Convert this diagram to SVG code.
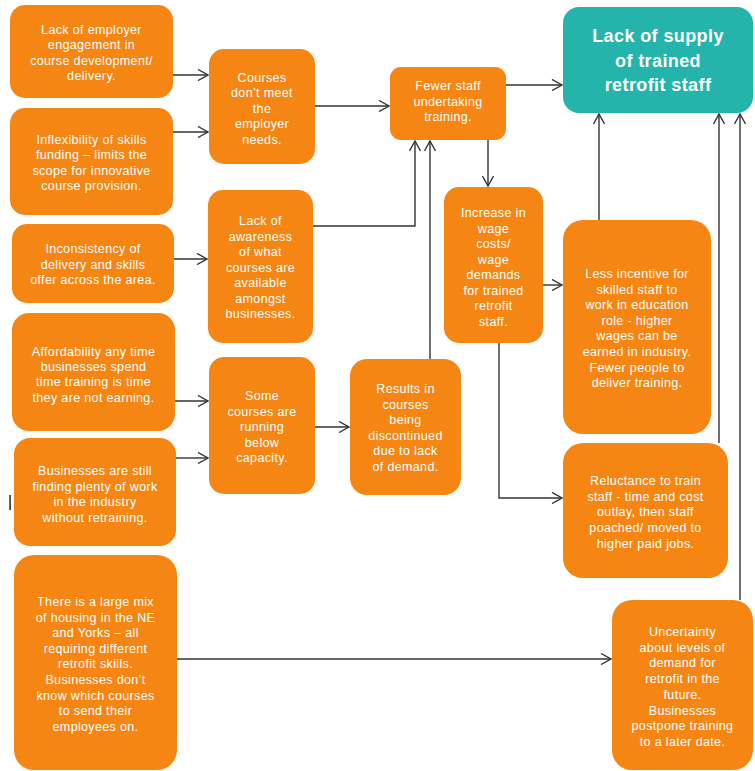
<svg xmlns="http://www.w3.org/2000/svg" width="755" height="771" viewBox="0 0 755 771">
  <style>
    .node { fill: #F58614; }
    .goal { fill: #24B4AB; }
    .label { font-family: "Liberation Sans", Arial, sans-serif; font-size: 12.5px; letter-spacing: 0.35px; fill: #FFFFFF; text-anchor: middle; }
    .title { font-family: "Liberation Sans", Arial, sans-serif; font-size: 18px; font-weight: bold; letter-spacing: 0.4px; fill: #FFFFFF; text-anchor: middle; }
    .link { fill: none; stroke: #333333; stroke-width: 1.4; marker-end: url(#chev); }
  </style>
  <defs>
    <marker id="chev" viewBox="0 0 12 12" refX="11" refY="6" markerWidth="12" markerHeight="12" markerUnits="userSpaceOnUse" orient="auto">
      <path d="M1,0.5 L11,6 L1,11.5" fill="none" stroke="#333333" stroke-width="1.4"/>
    </marker>
  </defs>
  <rect width="755" height="771" fill="#FFFFFF"/>

  <!-- connectors -->
  <g id="connectors">
    <path class="link" d="M173,75 H208"/>
    <path class="link" d="M173,132 H208"/>
    <path class="link" d="M174,259 H207"/>
    <path class="link" d="M175,401 H208"/>
    <path class="link" d="M176,458 H208"/>
    <path class="link" d="M315,106 H389"/>
    <path class="link" d="M313,226 H415 V141"/>
    <path class="link" d="M430,359 V141"/>
    <path class="link" d="M315,427 H349"/>
    <path class="link" d="M506,85 H562"/>
    <path class="link" d="M488,140 V186"/>
    <path class="link" d="M543,285 H562"/>
    <path class="link" d="M499,343 V498 H562"/>
    <path class="link" d="M599,220 V114"/>
    <path class="link" d="M719,443 V114"/>
    <path class="link" d="M740,600 V114"/>
    <path class="link" d="M177,659 H611"/>
  </g>

  <g id="employer-engagement">
    <rect class="node" x="10" y="5" width="163" height="93" rx="15"/>
    <text class="label" x="91.5" y="34"><tspan x="91.5">Lack of employer</tspan><tspan x="91.5" dy="15.4">engagement in</tspan><tspan x="91.5" dy="15.4">course development/</tspan><tspan x="91.5" dy="15.4">delivery.</tspan></text>
  </g>

  <g id="funding">
    <rect class="node" x="10" y="108" width="163" height="107" rx="15"/>
    <text class="label" x="91.5" y="144"><tspan x="91.5">Inflexibility of skills</tspan><tspan x="91.5" dy="15.4">funding – limits the</tspan><tspan x="91.5" dy="15.4">scope for innovative</tspan><tspan x="91.5" dy="15.4">course provision.</tspan></text>
  </g>

  <g id="courses-mismatch">
    <rect class="node" x="209" y="49" width="106" height="115" rx="15"/>
    <text class="label" x="262" y="82"><tspan x="262">Courses</tspan><tspan x="262" dy="15.4">don’t meet</tspan><tspan x="262" dy="15.4">the</tspan><tspan x="262" dy="15.4">employer</tspan><tspan x="262" dy="15.4">needs.</tspan></text>
  </g>

  <g id="awareness">
    <rect class="node" x="208" y="190" width="105" height="153" rx="15"/>
    <text class="label" x="260.5" y="225"><tspan x="260.5">Lack of</tspan><tspan x="260.5" dy="15.5">awareness</tspan><tspan x="260.5" dy="15.5">of what</tspan><tspan x="260.5" dy="15.5">courses are</tspan><tspan x="260.5" dy="15.5">available</tspan><tspan x="260.5" dy="15.5">amongst</tspan><tspan x="260.5" dy="15.5">businesses.</tspan></text>
  </g>

  <g id="inconsistency">
    <rect class="node" x="12" y="224" width="162" height="79" rx="15"/>
    <text class="label" x="93" y="253"><tspan x="93">Inconsistency of</tspan><tspan x="93" dy="15.6">delivery and skills</tspan><tspan x="93" dy="15.6">offer across the area.</tspan></text>
  </g>

  <g id="affordability">
    <rect class="node" x="12" y="313" width="163" height="118" rx="17"/>
    <text class="label" x="93.5" y="356"><tspan x="93.5">Affordability any time</tspan><tspan x="93.5" dy="15.2">businesses spend</tspan><tspan x="93.5" dy="15.2">time training is time</tspan><tspan x="93.5" dy="15.2">they are not earning.</tspan></text>
  </g>

  <g id="plenty-of-work">
    <rect class="node" x="14" y="438" width="162" height="108" rx="16"/>
    <text class="label" x="95" y="475"><tspan x="95">Businesses are still</tspan><tspan x="95" dy="15.5">finding plenty of work</tspan><tspan x="95" dy="15.5">in the industry</tspan><tspan x="95" dy="15.5">without retraining.</tspan></text>
  </g>

  <g id="below-capacity">
    <rect class="node" x="209" y="357" width="106" height="137" rx="15"/>
    <text class="label" x="262" y="400"><tspan x="262">Some</tspan><tspan x="262" dy="15.5">courses are</tspan><tspan x="262" dy="15.5">running</tspan><tspan x="262" dy="15.5">below</tspan><tspan x="262" dy="15.5">capacity.</tspan></text>
  </g>

  <g id="discontinued">
    <rect class="node" x="350" y="359" width="111" height="136" rx="17"/>
    <text class="label" x="405.5" y="393"><tspan x="405.5">Results in</tspan><tspan x="405.5" dy="15.6">courses</tspan><tspan x="405.5" dy="15.6">being</tspan><tspan x="405.5" dy="15.6">discontinued</tspan><tspan x="405.5" dy="15.6">due to lack</tspan><tspan x="405.5" dy="15.6">of demand.</tspan></text>
  </g>

  <g id="fewer-staff">
    <rect class="node" x="390" y="67" width="116" height="73" rx="11"/>
    <text class="label" x="448" y="90"><tspan x="448">Fewer staff</tspan><tspan x="448" dy="15.6">undertaking</tspan><tspan x="448" dy="15.6">training.</tspan></text>
  </g>

  <g id="lack-of-supply">
    <rect class="goal" x="563" y="7" width="190" height="106" rx="16"/>
    <text class="title" x="658" y="42"><tspan x="658">Lack of supply</tspan><tspan x="658" dy="24.5">of trained</tspan><tspan x="658" dy="24.5">retrofit staff</tspan></text>
  </g>

  <g id="wage-costs">
    <rect class="node" x="444" y="187" width="99" height="156" rx="15"/>
    <text class="label" x="493.5" y="217"><tspan x="493.5">Increase in</tspan><tspan x="493.5" dy="15.5">wage</tspan><tspan x="493.5" dy="15.5">costs/</tspan><tspan x="493.5" dy="15.5">wage</tspan><tspan x="493.5" dy="15.5">demands</tspan><tspan x="493.5" dy="15.5">for trained</tspan><tspan x="493.5" dy="15.5">retrofit</tspan><tspan x="493.5" dy="15.5">staff.</tspan></text>
  </g>

  <g id="less-incentive">
    <rect class="node" x="563" y="220" width="148" height="214" rx="20"/>
    <text class="label" x="637" y="278"><tspan x="637">Less incentive for</tspan><tspan x="637" dy="15.6">skilled staff to</tspan><tspan x="637" dy="15.6">work in education</tspan><tspan x="637" dy="15.6">role - higher</tspan><tspan x="637" dy="15.6">wages can be</tspan><tspan x="637" dy="15.6">earned in industry.</tspan><tspan x="637" dy="15.6">Fewer people to</tspan><tspan x="637" dy="15.6">deliver training.</tspan></text>
  </g>

  <g id="reluctance">
    <rect class="node" x="563" y="443" width="165" height="135" rx="20"/>
    <text class="label" x="645.5" y="485"><tspan x="645.5">Reluctance to train</tspan><tspan x="645.5" dy="15.7">staff - time and cost</tspan><tspan x="645.5" dy="15.7">outlay, then staff</tspan><tspan x="645.5" dy="15.7">poached/ moved to</tspan><tspan x="645.5" dy="15.7">higher paid jobs.</tspan></text>
  </g>

  <g id="uncertainty">
    <rect class="node" x="612" y="600" width="141" height="170" rx="20"/>
    <text class="label" x="682.5" y="636"><tspan x="682.5">Uncertainty</tspan><tspan x="682.5" dy="15.7">about levels of</tspan><tspan x="682.5" dy="15.7">demand for</tspan><tspan x="682.5" dy="15.7">retrofit in the</tspan><tspan x="682.5" dy="15.7">future.</tspan><tspan x="682.5" dy="15.7">Businesses</tspan><tspan x="682.5" dy="15.7">postpone training</tspan><tspan x="682.5" dy="15.7">to a later date.</tspan></text>
  </g>

  <g id="housing-mix">
    <rect class="node" x="14" y="555" width="163" height="215" rx="20"/>
    <text class="label" x="95.5" y="606"><tspan x="95.5">There is a large mix</tspan><tspan x="95.5" dy="15.6">of housing in the NE</tspan><tspan x="95.5" dy="15.6">and Yorks – all</tspan><tspan x="95.5" dy="15.6">requiring different</tspan><tspan x="95.5" dy="15.6">retrofit skills.</tspan><tspan x="95.5" dy="15.6">Businesses don’t</tspan><tspan x="95.5" dy="15.6">know which courses</tspan><tspan x="95.5" dy="15.6">to send their</tspan><tspan x="95.5" dy="15.6">employees on.</tspan></text>
  </g>

  <!-- short vertical tick at the left margin -->
  <rect x="9.3" y="495" width="1.6" height="15" fill="#333333"/>
</svg>
